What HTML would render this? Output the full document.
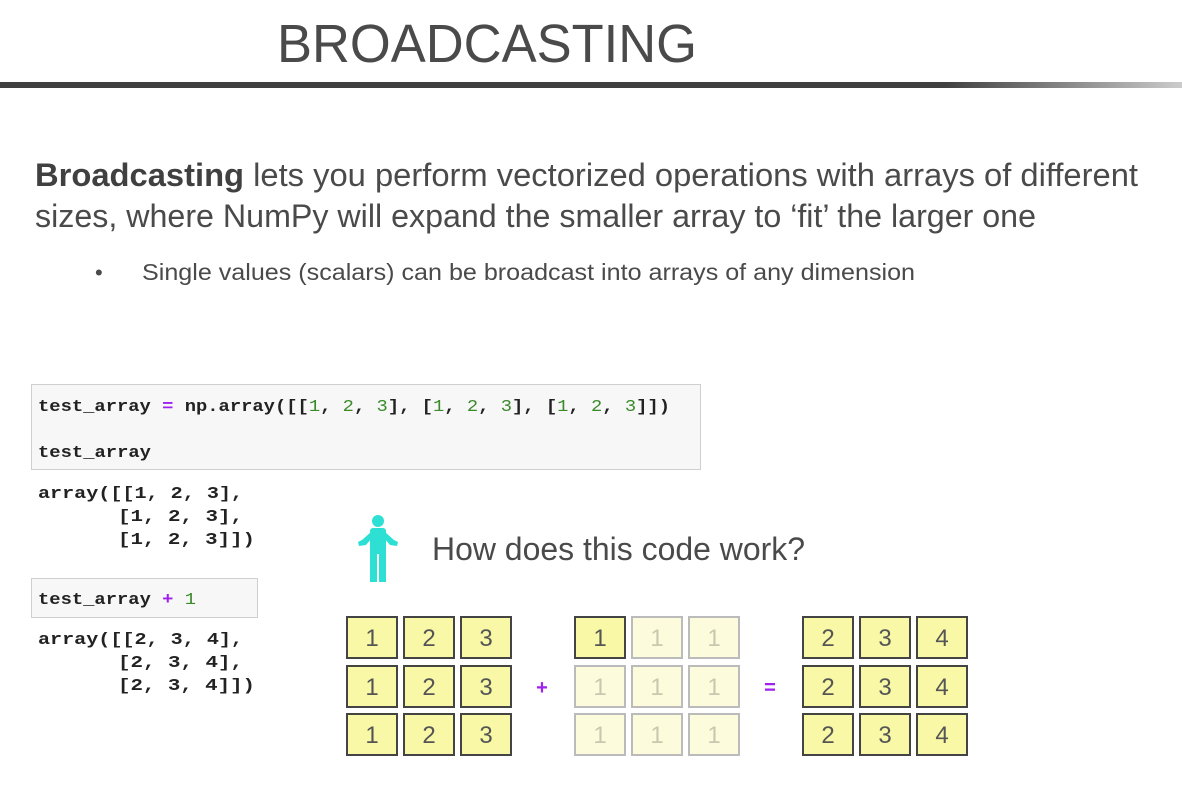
<!DOCTYPE html>
<html><head><meta charset="utf-8"><style>html,body{margin:0;padding:0;background:#fff}svg{display:block}</style></head>
<body>
<svg width="1182" height="800" viewBox="0 0 1182 800" xmlns="http://www.w3.org/2000/svg">
<defs>
<linearGradient id="g" x1="0" x2="1182" gradientUnits="userSpaceOnUse">
<stop offset="0" stop-color="#404040"/><stop offset="0.8" stop-color="#404040"/><stop offset="1" stop-color="#cccccc"/>
</linearGradient>
</defs>
<g font-family="Liberation Sans, sans-serif" fill="#4a4a4a">
<text x="277" y="62" font-size="54" textLength="420" lengthAdjust="spacingAndGlyphs">BROADCASTING</text>
<rect x="0" y="82" width="1182" height="6" fill="url(#g)"/>
<text x="35" y="186" font-size="32" textLength="1103" lengthAdjust="spacingAndGlyphs"><tspan font-weight="bold" fill="#404040">Broadcasting</tspan> lets you perform vectorized operations with arrays of different</text>
<text x="35" y="227" font-size="32" textLength="1001" lengthAdjust="spacingAndGlyphs">sizes, where NumPy will expand the smaller array to ‘fit’ the larger one</text>
<text x="95" y="280" font-size="22">•</text>
<text x="142" y="280" font-size="23" textLength="773" lengthAdjust="spacingAndGlyphs">Single values (scalars) can be broadcast into arrays of any dimension</text>
<text x="432" y="560" font-size="32" textLength="373" lengthAdjust="spacingAndGlyphs">How does this code work?</text>
</g>
<rect x="31.5" y="384.5" width="669" height="85" fill="#f7f7f7" stroke="#cfcfcf"/>
<rect x="31.5" y="578.5" width="226" height="39" fill="#f7f7f7" stroke="#cfcfcf"/>
<g font-family="Liberation Mono, monospace" font-size="17" font-weight="bold" fill="#222">
<text x="38" y="411" textLength="632" lengthAdjust="spacingAndGlyphs">test_array <tspan fill="#a020f0">=</tspan> np.array([[<tspan fill="#3a8a2a" font-weight="normal">1</tspan>, <tspan fill="#3a8a2a" font-weight="normal">2</tspan>, <tspan fill="#3a8a2a" font-weight="normal">3</tspan>], [<tspan fill="#3a8a2a" font-weight="normal">1</tspan>, <tspan fill="#3a8a2a" font-weight="normal">2</tspan>, <tspan fill="#3a8a2a" font-weight="normal">3</tspan>], [<tspan fill="#3a8a2a" font-weight="normal">1</tspan>, <tspan fill="#3a8a2a" font-weight="normal">2</tspan>, <tspan fill="#3a8a2a" font-weight="normal">3</tspan>]])</text>
<text x="38" y="457" textLength="113" lengthAdjust="spacingAndGlyphs">test_array</text>
<text x="38" y="498" textLength="205" lengthAdjust="spacingAndGlyphs">array([[1, 2, 3],</text>
<text x="118" y="521" textLength="125" lengthAdjust="spacingAndGlyphs">[1, 2, 3],</text>
<text x="118" y="544" textLength="137" lengthAdjust="spacingAndGlyphs">[1, 2, 3]])</text>
<text x="38" y="604" textLength="158" lengthAdjust="spacingAndGlyphs">test_array <tspan fill="#a020f0">+</tspan> <tspan fill="#3a8a2a" font-weight="normal">1</tspan></text>
<text x="38" y="644" textLength="205" lengthAdjust="spacingAndGlyphs">array([[2, 3, 4],</text>
<text x="118" y="667" textLength="125" lengthAdjust="spacingAndGlyphs">[2, 3, 4],</text>
<text x="118" y="690" textLength="137" lengthAdjust="spacingAndGlyphs">[2, 3, 4]])</text>
</g>
<g fill="#2ee0d4">
<circle cx="378" cy="521" r="6"/>
<rect x="370" y="528" width="16" height="26" rx="3"/>
<rect x="370" y="548" width="7" height="34"/>
<rect x="379" y="548" width="7" height="34"/>
<path d="M371 532 L362 540 L358 542 L359 546 L366 545 L372 538Z"/>
<path d="M385 532 L394 540 L398 542 L397 546 L390 545 L384 538Z"/>
</g>
<g font-family="Liberation Sans, sans-serif" font-size="24" text-anchor="middle">
<g stroke="#444" stroke-width="2" fill="#f8f8a6">
<rect x="347" y="617" width="50" height="41"/><rect x="404" y="617" width="50" height="41"/><rect x="461" y="617" width="50" height="41"/>
<rect x="347" y="666" width="50" height="41"/><rect x="404" y="666" width="50" height="41"/><rect x="461" y="666" width="50" height="41"/>
<rect x="347" y="714" width="50" height="41"/><rect x="404" y="714" width="50" height="41"/><rect x="461" y="714" width="50" height="41"/>
<rect x="575" y="617" width="50" height="41"/>
<rect x="803" y="617" width="50" height="41"/><rect x="860" y="617" width="50" height="41"/><rect x="917" y="617" width="50" height="41"/>
<rect x="803" y="666" width="50" height="41"/><rect x="860" y="666" width="50" height="41"/><rect x="917" y="666" width="50" height="41"/>
<rect x="803" y="714" width="50" height="41"/><rect x="860" y="714" width="50" height="41"/><rect x="917" y="714" width="50" height="41"/>
</g>
<g stroke="#bbb" stroke-width="2" fill="#fcfcdc">
<rect x="632" y="617" width="50" height="41"/><rect x="689" y="617" width="50" height="41"/>
<rect x="575" y="666" width="50" height="41"/><rect x="632" y="666" width="50" height="41"/><rect x="689" y="666" width="50" height="41"/>
<rect x="575" y="714" width="50" height="41"/><rect x="632" y="714" width="50" height="41"/><rect x="689" y="714" width="50" height="41"/>
</g>
<g fill="#555">
<text x="372" y="646">1</text><text x="429" y="646">2</text><text x="486" y="646">3</text>
<text x="372" y="695">1</text><text x="429" y="695">2</text><text x="486" y="695">3</text>
<text x="372" y="743">1</text><text x="429" y="743">2</text><text x="486" y="743">3</text>
<text x="600" y="646">1</text>
<text x="828" y="646">2</text><text x="885" y="646">3</text><text x="942" y="646">4</text>
<text x="828" y="695">2</text><text x="885" y="695">3</text><text x="942" y="695">4</text>
<text x="828" y="743">2</text><text x="885" y="743">3</text><text x="942" y="743">4</text>
</g>
<g fill="#c8c8b0">
<text x="657" y="646">1</text><text x="714" y="646">1</text>
<text x="600" y="695">1</text><text x="657" y="695">1</text><text x="714" y="695">1</text>
<text x="600" y="743">1</text><text x="657" y="743">1</text><text x="714" y="743">1</text>
</g>
<g fill="#a020f0" font-weight="bold" font-size="20">
<text x="542" y="694">+</text><text x="770" y="694">=</text>
</g>
</g>
</svg>
</body></html>
